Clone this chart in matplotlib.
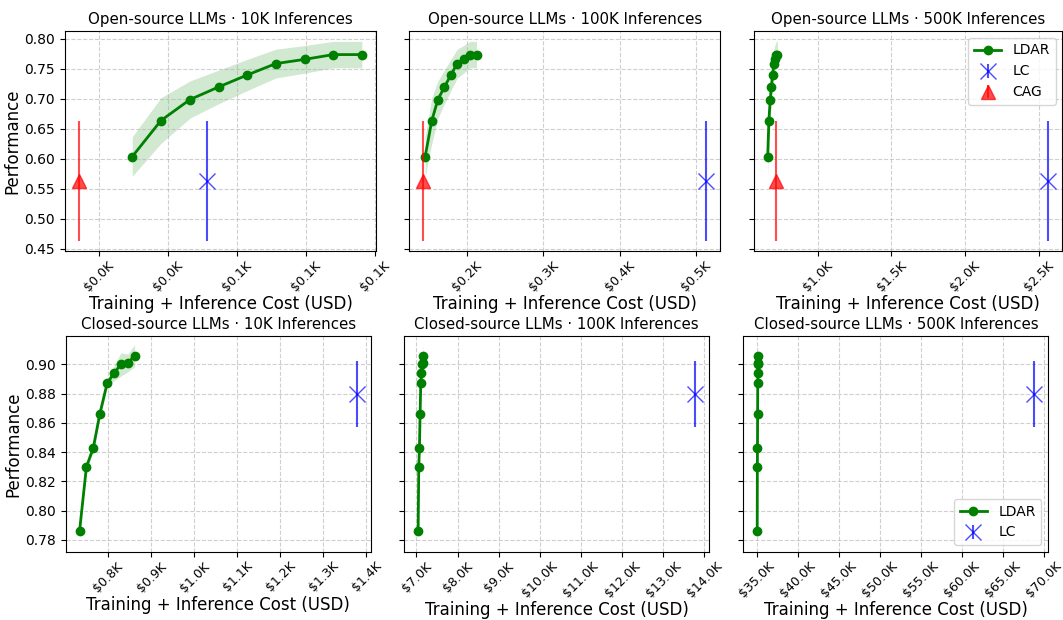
import matplotlib.pyplot as plt
from matplotlib.ticker import FuncFormatter, MultipleLocator

# values
open_cost_10k = [29.7, 38.0, 46.4, 54.7, 63.0, 71.3, 79.6, 87.9, 96.2]
open_cost_100k = [145.3, 154.0, 162.0, 170.5, 179.0, 187.3, 195.6, 204.0, 212.5]
open_cost_500k = [660, 668, 677, 685, 693, 701, 709, 718, 726]
open_perf = [0.604, 0.664, 0.699, 0.720, 0.740, 0.759, 0.766, 0.774, 0.774]
open_std = [0.033, 0.038, 0.031, 0.028, 0.026, 0.024, 0.023, 0.022, 0.022]
open_lc_cost = [51.3, 513, 2565]
open_cag_cost = [14.3, 143, 716]
open_base_perf = 0.563
open_base_err = 0.100

closed_cost_10k = [733, 749, 765, 780, 797, 813, 829, 845, 861]
closed_cost_100k = [7041, 7057, 7073, 7089, 7105, 7122, 7138, 7154, 7171]
closed_cost_500k = [35082, 35098, 35114, 35130, 35146, 35163, 35179, 35195, 35212]
closed_perf = [0.786, 0.830, 0.843, 0.866, 0.887, 0.894, 0.900, 0.901, 0.906]
closed_std = [0.0, 0.002, 0.003, 0.003, 0.003, 0.005, 0.008, 0.006, 0.0075]
closed_lc_cost = [1377.5, 13780, 68880]
closed_lc_perf = 0.880
closed_lc_err = 0.0225

inferences = ['10K', '100K', '500K']
open_xstep = [20, 100, 500]
closed_xstep = [100, 1000, 5000]

fig = plt.figure(figsize=(10.63, 6.2), dpi=100)

top_left = [0.0611, 0.3850, 0.7090]
bot_left = [0.0618, 0.3803, 0.6993]

money = FuncFormatter(lambda x, p: '\\$%.1fK' % (x / 1000))


def style(ax, title, first, ylim, xstep, ystep):
    ax.set_title(title, fontsize=10.8, pad=5)
    ax.set_xlabel('Training + Inference Cost (USD)', fontsize=12, labelpad=1)
    ax.xaxis.set_major_locator(MultipleLocator(xstep))
    ax.yaxis.set_major_locator(MultipleLocator(ystep))
    ax.xaxis.set_major_formatter(money)
    ax.tick_params(axis='x', labelrotation=45, labelsize=9, pad=2)
    ax.tick_params(axis='y', labelsize=10)
    ax.grid(True, linestyle='--', alpha=0.6)
    ax.set_ylim(*ylim)
    if first:
        ax.set_ylabel('Performance', fontsize=12, labelpad=2)
    else:
        ax.tick_params(labelleft=False)


open_costs = [open_cost_10k, open_cost_100k, open_cost_500k]
for i in range(3):
    ax = fig.add_axes([top_left[i], 0.5952, 0.2926 if i < 2 else 0.2905, 0.3548])
    lo = [p - s for p, s in zip(open_perf, open_std)]
    hi = [p + s for p, s in zip(open_perf, open_std)]
    ax.fill_between(open_costs[i], lo, hi, color='green', alpha=0.18, linewidth=0)
    ax.plot(open_costs[i], open_perf, 'o-', color='green', lw=2, markersize=6, label='LDAR')
    ax.errorbar([open_lc_cost[i]], [open_base_perf], yerr=[open_base_err], fmt='x',
                color='blue', alpha=0.7, markersize=12, elinewidth=1.5, label='LC')
    ax.errorbar([open_cag_cost[i]], [open_base_perf], yerr=[open_base_err], fmt='^',
                color='red', alpha=0.7, markersize=10, elinewidth=1.5, label='CAG')
    style(ax, 'Open-source LLMs · %s Inferences' % inferences[i], i == 0,
          (0.4467, 0.8133), open_xstep[i], 0.05)
    if i == 2:
        ax.legend(loc='upper right', fontsize=10)

closed_costs = [closed_cost_10k, closed_cost_100k, closed_cost_500k]
for i in range(3):
    ax = fig.add_axes([bot_left[i], 0.1097, 0.2869, 0.3484])
    lo = [p - s for p, s in zip(closed_perf, closed_std)]
    hi = [p + s for p, s in zip(closed_perf, closed_std)]
    ax.fill_between(closed_costs[i], lo, hi, color='green', alpha=0.18, linewidth=0)
    ax.plot(closed_costs[i], closed_perf, 'o-', color='green', lw=2, markersize=6, label='LDAR')
    ax.errorbar([closed_lc_cost[i]], [closed_lc_perf], yerr=[closed_lc_err], fmt='x',
                color='blue', alpha=0.7, markersize=12, elinewidth=1.5, label='LC')
    style(ax, 'Closed-source LLMs · %s Inferences' % inferences[i], i == 0,
          (0.7717, 0.9195), closed_xstep[i], 0.02)
    if i == 2:
        ax.legend(loc='lower right', fontsize=10)

fig.savefig('out.png', dpi=100)
